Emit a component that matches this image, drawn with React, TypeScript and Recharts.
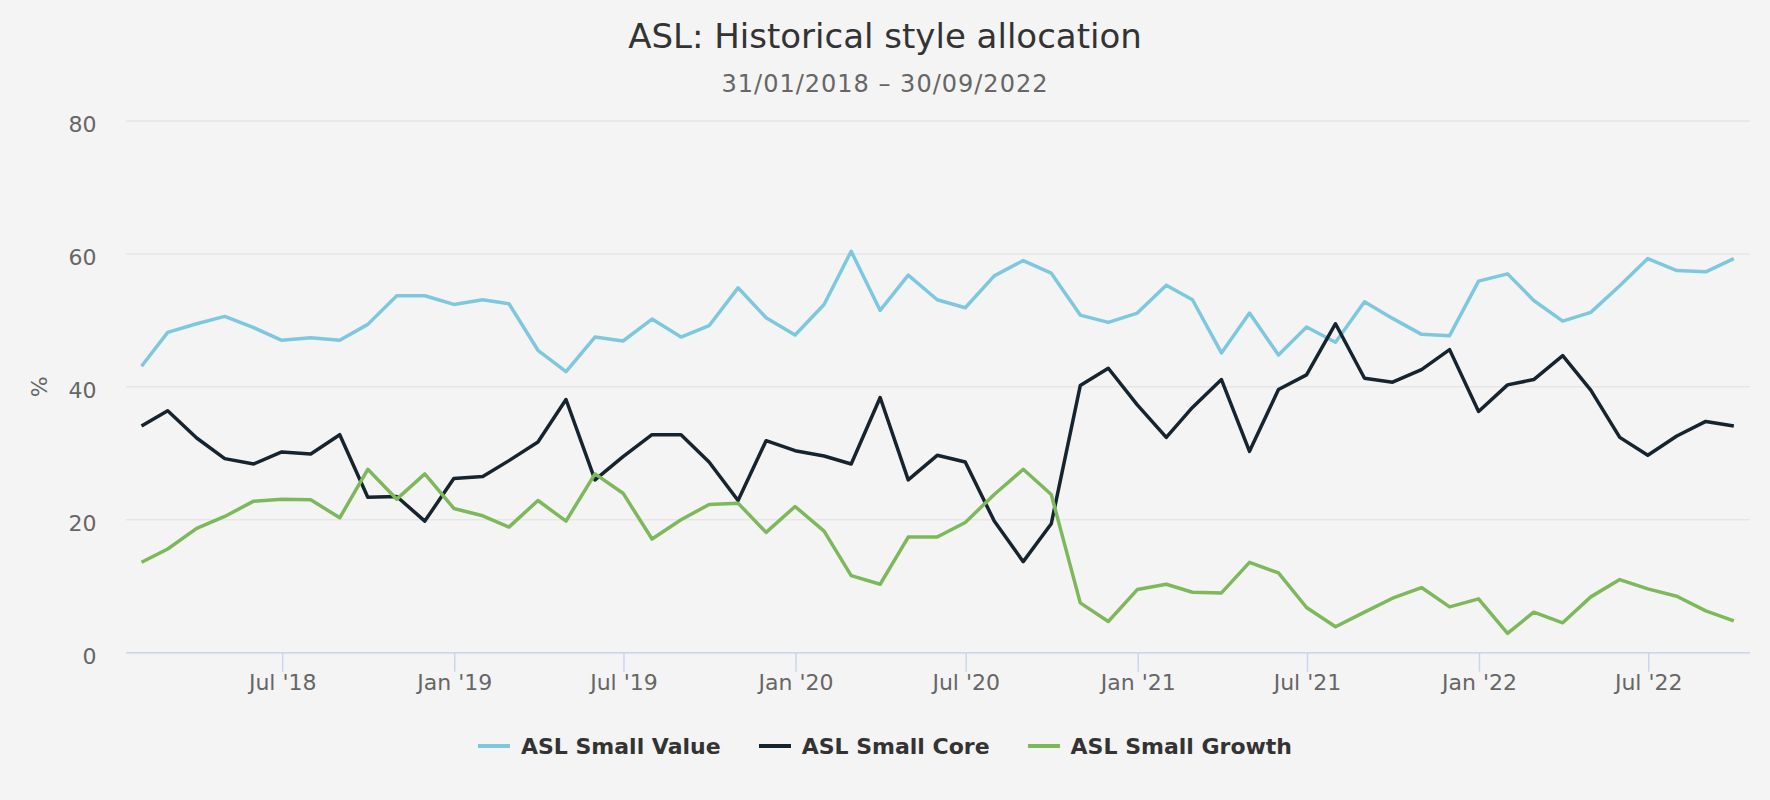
import React from 'react';
import { LineChart, Line, XAxis, YAxis, CartesianGrid } from 'recharts';

const FONT = '"DejaVu Sans", Verdana, sans-serif';

const titleText = 'ASL: Historical style allocation';
const subtitleText = '31/01/2018 – 30/09/2022';
const yAxisTitle = '%';

const dates = [
  '2018-01-31', '2018-02-28', '2018-03-31', '2018-04-30', '2018-05-31', '2018-06-30',
  '2018-07-31', '2018-08-31', '2018-09-30', '2018-10-31', '2018-11-30', '2018-12-31',
  '2019-01-31', '2019-02-28', '2019-03-31', '2019-04-30', '2019-05-31', '2019-06-30',
  '2019-07-31', '2019-08-31', '2019-09-30', '2019-10-31', '2019-11-30', '2019-12-31',
  '2020-01-31', '2020-02-29', '2020-03-31', '2020-04-30', '2020-05-31', '2020-06-30',
  '2020-07-31', '2020-08-31', '2020-09-30', '2020-10-31', '2020-11-30', '2020-12-31',
  '2021-01-31', '2021-02-28', '2021-03-31', '2021-04-30', '2021-05-31', '2021-06-30',
  '2021-07-31', '2021-08-31', '2021-09-30', '2021-10-31', '2021-11-30', '2021-12-31',
  '2022-01-31', '2022-02-28', '2022-03-31', '2022-04-30', '2022-05-31', '2022-06-30',
  '2022-07-31', '2022-08-31', '2022-09-30',
];

const smallValue = [
  43.1, 48.2, 49.5, 50.6, 48.9, 47.0, 47.4, 47.0, 49.4, 53.7, 53.7, 52.4,
  53.1, 52.5, 45.5, 42.3, 47.5, 46.9, 50.2, 47.5, 49.2, 54.9, 50.4, 47.8,
  52.4, 60.4, 51.5, 56.8, 53.1, 51.9, 56.7, 59.0, 57.1, 50.8, 49.7, 51.1,
  55.3, 53.1, 45.1, 51.1, 44.8, 49.0, 46.7, 52.8, 50.3, 47.9, 47.7, 55.9,
  57.0, 53.0, 49.9, 51.2, 55.2, 59.3, 57.5, 57.3, 59.3,
];

const smallCore = [
  34.1, 36.4, 32.3, 29.2, 28.4, 30.2, 29.9, 32.8, 23.4, 23.5, 19.8, 26.2,
  26.5, 28.9, 31.7, 38.1, 26.0, 29.5, 32.8, 32.8, 28.7, 22.9, 31.9, 30.4,
  29.6, 28.4, 38.4, 26.0, 29.7, 28.7, 19.8, 13.7, 19.4, 40.2, 42.8, 37.3,
  32.4, 36.9, 41.1, 30.3, 39.6, 41.8, 49.5, 41.3, 40.7, 42.6, 45.6, 36.3,
  40.3, 41.1, 44.7, 39.5, 32.4, 29.7, 32.6, 34.8, 34.1,
];

const smallGrowth = [
  13.6, 15.6, 18.7, 20.5, 22.8, 23.1, 23.0, 20.3, 27.6, 23.1, 26.9, 21.7,
  20.6, 18.9, 22.9, 19.8, 26.9, 24.0, 17.1, 20.0, 22.3, 22.5, 18.1, 22.0,
  18.3, 11.6, 10.3, 17.4, 17.4, 19.6, 23.8, 27.6, 23.8, 7.5, 4.7, 9.5,
  10.3, 9.1, 9.0, 13.6, 12.0, 6.8, 3.9, 6.1, 8.2, 9.8, 6.9, 8.1,
  2.9, 6.1, 4.5, 8.4, 11.0, 9.6, 8.5, 6.3, 4.8,
];

const xTickDates = [
  '2018-07-01', '2019-01-01', '2019-07-01', '2020-01-01', '2020-07-01',
  '2021-01-01', '2021-07-01', '2022-01-01', '2022-07-01',
];
const xTickLabels = [
  "Jul '18", "Jan '19", "Jul '19", "Jan '20", "Jul '20",
  "Jan '21", "Jul '21", "Jan '22", "Jul '22",
];

const yTicks = [0, 20, 40, 60, 80];

const seriesNames = ['ASL Small Value', 'ASL Small Core', 'ASL Small Growth'];
const seriesKeys = ['value', 'core', 'growth'];
const seriesColors = ['#7ec8df', '#15242e', '#7db85b'];

const rows = dates.map((d, i) => ({
  t: Date.parse(d),
  value: smallValue[i],
  core: smallCore[i],
  growth: smallGrowth[i],
}));

const xTicks = xTickDates.map((d) => Date.parse(d));
const DAY = 86400000;
const xDomain = [Date.parse('2018-01-14') + 0.4 * DAY, Date.parse('2022-10-17') + 0.3 * DAY];

const labelFor = (v: number) => {
  const i = xTicks.indexOf(v);
  return i >= 0 ? xTickLabels[i] : '';
};

const XTick = (props: any) => {
  const { x, y, payload } = props;
  return (
    <text x={x} y={y + 15.6} textAnchor="middle" fontFamily={FONT} fontSize={22} fill="#666666">
      {labelFor(payload.value)}
    </text>
  );
};

const YTick = (props: any) => {
  const { x, y, payload } = props;
  return (
    <text x={x} y={y + 11} textAnchor="end" fontFamily={FONT} fontSize={22} fill="#666666">
      {payload.value}
    </text>
  );
};

const YLabel = (props: any) => {
  const vb = props.viewBox || { x: 0, y: 121, width: 126, height: 532 };
  const cy = vb.y + vb.height / 2;
  const cx = 39.5;
  return (
    <text
      x={cx}
      y={cy}
      transform={`rotate(-90, ${cx}, ${cy})`}
      textAnchor="middle"
      dominantBaseline="central"
      fontFamily={FONT}
      fontSize={22}
      fill="#666666"
    >
      {yAxisTitle}
    </text>
  );
};

export default function App() {
  return (
    <div style={{ position: 'relative', width: 1770, height: 800, background: '#f4f4f4', fontFamily: FONT }}>
      <style>{'body{margin:0;background:#f4f4f4;}'}</style>
      <LineChart
        width={1770}
        height={800}
        data={rows}
        margin={{ top: 121, right: 20, bottom: 97.3, left: 0 }}
      >
        <CartesianGrid vertical={false} stroke="#e6e6e6" strokeWidth={1.5} />
        <XAxis
          dataKey="t"
          type="number"
          scale="linear"
          domain={xDomain}
          allowDataOverflow
          ticks={xTicks}
          interval={0}
          height={50}
          tickSize={19}
          tickMargin={3}
          axisLine={{ stroke: '#ccd6eb', strokeWidth: 1.5 }}
          tickLine={{ stroke: '#ccd6eb', strokeWidth: 1.5 }}
          tick={<XTick />}
        />
        <YAxis
          type="number"
          domain={[0, 80]}
          ticks={yTicks}
          interval={0}
          width={126}
          tickSize={0}
          tickMargin={29.5}
          axisLine={false}
          tickLine={false}
          tick={<YTick />}
          label={{ content: <YLabel /> }}
        />
        {seriesKeys.map((k, i) => (
          <Line
            key={k}
            type="linear"
            dataKey={k}
            name={seriesNames[i]}
            stroke={seriesColors[i]}
            strokeWidth={3.5}
            dot={false}
            activeDot={false}
            isAnimationActive={false}
            strokeLinejoin="round"
          />
        ))}
      </LineChart>
      <svg
        width={1770}
        height={110}
        style={{ position: 'absolute', left: 0, top: 0, pointerEvents: 'none' }}
      >
        <text x={885} y={48.3} textAnchor="middle" fontFamily={FONT} fontSize={34} fill="#333333">
          {titleText}
        </text>
        <text
          x={885}
          y={92}
          textAnchor="middle"
          fontFamily={FONT}
          fontSize={24}
          letterSpacing={1}
          fill="#666666"
        >
          {subtitleText}
        </text>
      </svg>
      <div
        style={{
          position: 'absolute',
          left: 0,
          top: 733.9,
          width: 1770,
          display: 'flex',
          justifyContent: 'center',
          alignItems: 'center',
          gap: 38,
          fontFamily: FONT,
          fontSize: 22,
          fontWeight: 'bold',
          color: '#333333',
          lineHeight: 'normal',
        }}
      >
        {seriesNames.map((n, i) => (
          <div key={n} style={{ display: 'flex', alignItems: 'center' }}>
            <span
              style={{
                display: 'inline-block',
                width: 32,
                height: 4,
                background: seriesColors[i],
                marginRight: 11,
              }}
            />
            <span>{n}</span>
          </div>
        ))}
      </div>
    </div>
  );
}
